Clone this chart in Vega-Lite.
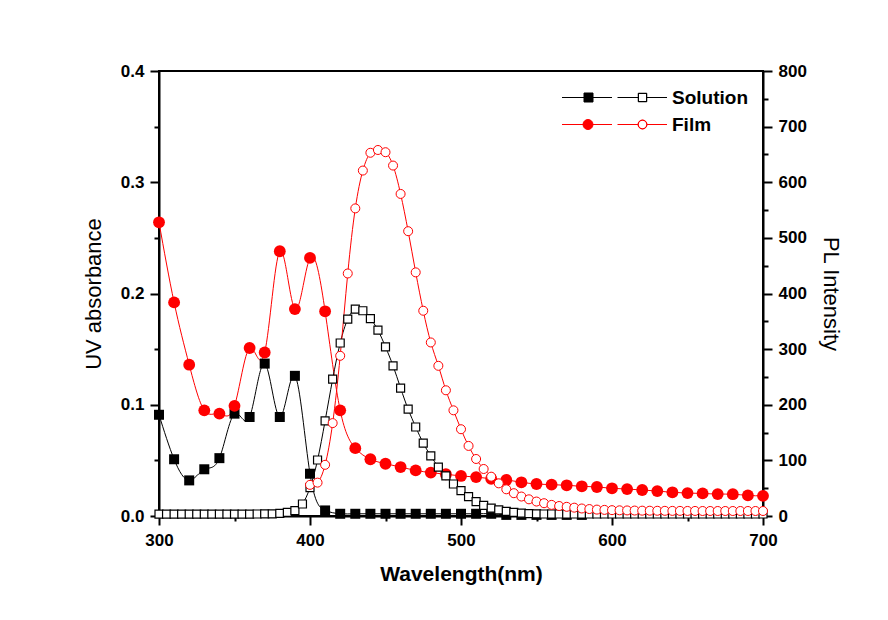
{
  "$schema": "https://vega.github.io/schema/vega-lite/v6.json",
  "width": 604,
  "height": 445,
  "autosize": "none",
  "padding": {"left": 159, "top": 71, "right": 125, "bottom": 104},
  "background": "white",
  "config": {"view": {"stroke": "black", "strokeWidth": 2}, "font": "Liberation Sans"},
  "datasets": {
    "absorbance": [
      {"wavelength": 300, "sample": "Solution", "absorbance": 0.091},
      {"wavelength": 310, "sample": "Solution", "absorbance": 0.051},
      {"wavelength": 320, "sample": "Solution", "absorbance": 0.032},
      {"wavelength": 330, "sample": "Solution", "absorbance": 0.042},
      {"wavelength": 340, "sample": "Solution", "absorbance": 0.052},
      {"wavelength": 350, "sample": "Solution", "absorbance": 0.092},
      {"wavelength": 360, "sample": "Solution", "absorbance": 0.089},
      {"wavelength": 370, "sample": "Solution", "absorbance": 0.137},
      {"wavelength": 380, "sample": "Solution", "absorbance": 0.089},
      {"wavelength": 390, "sample": "Solution", "absorbance": 0.126},
      {"wavelength": 400, "sample": "Solution", "absorbance": 0.038},
      {"wavelength": 410, "sample": "Solution", "absorbance": 0.005},
      {"wavelength": 420, "sample": "Solution", "absorbance": 0.002},
      {"wavelength": 430, "sample": "Solution", "absorbance": 0.002},
      {"wavelength": 440, "sample": "Solution", "absorbance": 0.002},
      {"wavelength": 450, "sample": "Solution", "absorbance": 0.002},
      {"wavelength": 460, "sample": "Solution", "absorbance": 0.002},
      {"wavelength": 470, "sample": "Solution", "absorbance": 0.002},
      {"wavelength": 480, "sample": "Solution", "absorbance": 0.002},
      {"wavelength": 490, "sample": "Solution", "absorbance": 0.002},
      {"wavelength": 500, "sample": "Solution", "absorbance": 0.002},
      {"wavelength": 510, "sample": "Solution", "absorbance": 0.002},
      {"wavelength": 520, "sample": "Solution", "absorbance": 0.002},
      {"wavelength": 530, "sample": "Solution", "absorbance": 0.001},
      {"wavelength": 540, "sample": "Solution", "absorbance": 0.001},
      {"wavelength": 550, "sample": "Solution", "absorbance": 0.001},
      {"wavelength": 560, "sample": "Solution", "absorbance": 0.001},
      {"wavelength": 570, "sample": "Solution", "absorbance": 0.001},
      {"wavelength": 580, "sample": "Solution", "absorbance": 0.001},
      {"wavelength": 300, "sample": "Film", "absorbance": 0.264},
      {"wavelength": 310, "sample": "Film", "absorbance": 0.192},
      {"wavelength": 320, "sample": "Film", "absorbance": 0.136},
      {"wavelength": 330, "sample": "Film", "absorbance": 0.095},
      {"wavelength": 340, "sample": "Film", "absorbance": 0.092},
      {"wavelength": 350, "sample": "Film", "absorbance": 0.099},
      {"wavelength": 360, "sample": "Film", "absorbance": 0.151},
      {"wavelength": 370, "sample": "Film", "absorbance": 0.147},
      {"wavelength": 380, "sample": "Film", "absorbance": 0.238},
      {"wavelength": 390, "sample": "Film", "absorbance": 0.186},
      {"wavelength": 400, "sample": "Film", "absorbance": 0.232},
      {"wavelength": 410, "sample": "Film", "absorbance": 0.184},
      {"wavelength": 420, "sample": "Film", "absorbance": 0.095},
      {"wavelength": 430, "sample": "Film", "absorbance": 0.061},
      {"wavelength": 440, "sample": "Film", "absorbance": 0.051},
      {"wavelength": 450, "sample": "Film", "absorbance": 0.047},
      {"wavelength": 460, "sample": "Film", "absorbance": 0.044},
      {"wavelength": 470, "sample": "Film", "absorbance": 0.041},
      {"wavelength": 480, "sample": "Film", "absorbance": 0.039},
      {"wavelength": 490, "sample": "Film", "absorbance": 0.0375},
      {"wavelength": 500, "sample": "Film", "absorbance": 0.036},
      {"wavelength": 510, "sample": "Film", "absorbance": 0.035},
      {"wavelength": 520, "sample": "Film", "absorbance": 0.0335},
      {"wavelength": 530, "sample": "Film", "absorbance": 0.0324},
      {"wavelength": 540, "sample": "Film", "absorbance": 0.0303},
      {"wavelength": 550, "sample": "Film", "absorbance": 0.0288},
      {"wavelength": 560, "sample": "Film", "absorbance": 0.0282},
      {"wavelength": 570, "sample": "Film", "absorbance": 0.0276},
      {"wavelength": 580, "sample": "Film", "absorbance": 0.0267},
      {"wavelength": 590, "sample": "Film", "absorbance": 0.0261},
      {"wavelength": 600, "sample": "Film", "absorbance": 0.0249},
      {"wavelength": 610, "sample": "Film", "absorbance": 0.0242},
      {"wavelength": 620, "sample": "Film", "absorbance": 0.0234},
      {"wavelength": 630, "sample": "Film", "absorbance": 0.0224},
      {"wavelength": 640, "sample": "Film", "absorbance": 0.0213},
      {"wavelength": 650, "sample": "Film", "absorbance": 0.0206},
      {"wavelength": 660, "sample": "Film", "absorbance": 0.0203},
      {"wavelength": 670, "sample": "Film", "absorbance": 0.0197},
      {"wavelength": 680, "sample": "Film", "absorbance": 0.0196},
      {"wavelength": 690, "sample": "Film", "absorbance": 0.0185},
      {"wavelength": 700, "sample": "Film", "absorbance": 0.0181}
    ],
    "pl": [
      {"wavelength": 300, "sample": "Solution", "intensity": 3.5},
      {"wavelength": 305, "sample": "Solution", "intensity": 3.5},
      {"wavelength": 310, "sample": "Solution", "intensity": 3.5},
      {"wavelength": 315, "sample": "Solution", "intensity": 3.5},
      {"wavelength": 320, "sample": "Solution", "intensity": 3.5},
      {"wavelength": 325, "sample": "Solution", "intensity": 3.5},
      {"wavelength": 330, "sample": "Solution", "intensity": 3.5},
      {"wavelength": 335, "sample": "Solution", "intensity": 3.5},
      {"wavelength": 340, "sample": "Solution", "intensity": 3.5},
      {"wavelength": 345, "sample": "Solution", "intensity": 3.5},
      {"wavelength": 350, "sample": "Solution", "intensity": 3.5},
      {"wavelength": 355, "sample": "Solution", "intensity": 3.5},
      {"wavelength": 360, "sample": "Solution", "intensity": 3.5},
      {"wavelength": 365, "sample": "Solution", "intensity": 3.6},
      {"wavelength": 370, "sample": "Solution", "intensity": 3.7},
      {"wavelength": 375, "sample": "Solution", "intensity": 4.0},
      {"wavelength": 380, "sample": "Solution", "intensity": 4.8},
      {"wavelength": 385, "sample": "Solution", "intensity": 6.6},
      {"wavelength": 390, "sample": "Solution", "intensity": 9.6},
      {"wavelength": 395, "sample": "Solution", "intensity": 21.6},
      {"wavelength": 400, "sample": "Solution", "intensity": 51},
      {"wavelength": 405, "sample": "Solution", "intensity": 100.7},
      {"wavelength": 410, "sample": "Solution", "intensity": 171},
      {"wavelength": 415, "sample": "Solution", "intensity": 246},
      {"wavelength": 420, "sample": "Solution", "intensity": 311},
      {"wavelength": 425, "sample": "Solution", "intensity": 354},
      {"wavelength": 430, "sample": "Solution", "intensity": 372},
      {"wavelength": 435, "sample": "Solution", "intensity": 369},
      {"wavelength": 440, "sample": "Solution", "intensity": 355},
      {"wavelength": 445, "sample": "Solution", "intensity": 334},
      {"wavelength": 450, "sample": "Solution", "intensity": 304},
      {"wavelength": 455, "sample": "Solution", "intensity": 270},
      {"wavelength": 460, "sample": "Solution", "intensity": 230},
      {"wavelength": 465, "sample": "Solution", "intensity": 192},
      {"wavelength": 470, "sample": "Solution", "intensity": 160},
      {"wavelength": 475, "sample": "Solution", "intensity": 131},
      {"wavelength": 480, "sample": "Solution", "intensity": 108},
      {"wavelength": 485, "sample": "Solution", "intensity": 88},
      {"wavelength": 490, "sample": "Solution", "intensity": 72},
      {"wavelength": 495, "sample": "Solution", "intensity": 57.5},
      {"wavelength": 500, "sample": "Solution", "intensity": 45.5},
      {"wavelength": 505, "sample": "Solution", "intensity": 35},
      {"wavelength": 510, "sample": "Solution", "intensity": 26},
      {"wavelength": 515, "sample": "Solution", "intensity": 19},
      {"wavelength": 520, "sample": "Solution", "intensity": 14},
      {"wavelength": 525, "sample": "Solution", "intensity": 11},
      {"wavelength": 530, "sample": "Solution", "intensity": 8.4},
      {"wavelength": 535, "sample": "Solution", "intensity": 6.6},
      {"wavelength": 540, "sample": "Solution", "intensity": 5},
      {"wavelength": 545, "sample": "Solution", "intensity": 4.2},
      {"wavelength": 550, "sample": "Solution", "intensity": 3.8},
      {"wavelength": 555, "sample": "Solution", "intensity": 3.6},
      {"wavelength": 560, "sample": "Solution", "intensity": 3.6},
      {"wavelength": 565, "sample": "Solution", "intensity": 3.6},
      {"wavelength": 570, "sample": "Solution", "intensity": 3.6},
      {"wavelength": 575, "sample": "Solution", "intensity": 3.6},
      {"wavelength": 580, "sample": "Solution", "intensity": 3.6},
      {"wavelength": 585, "sample": "Solution", "intensity": 3.6},
      {"wavelength": 590, "sample": "Solution", "intensity": 3.6},
      {"wavelength": 595, "sample": "Solution", "intensity": 3.6},
      {"wavelength": 600, "sample": "Solution", "intensity": 3.6},
      {"wavelength": 605, "sample": "Solution", "intensity": 3.6},
      {"wavelength": 610, "sample": "Solution", "intensity": 3.6},
      {"wavelength": 615, "sample": "Solution", "intensity": 3.6},
      {"wavelength": 620, "sample": "Solution", "intensity": 3.6},
      {"wavelength": 625, "sample": "Solution", "intensity": 3.6},
      {"wavelength": 630, "sample": "Solution", "intensity": 3.6},
      {"wavelength": 635, "sample": "Solution", "intensity": 3.6},
      {"wavelength": 640, "sample": "Solution", "intensity": 3.6},
      {"wavelength": 645, "sample": "Solution", "intensity": 3.6},
      {"wavelength": 650, "sample": "Solution", "intensity": 3.6},
      {"wavelength": 655, "sample": "Solution", "intensity": 3.6},
      {"wavelength": 660, "sample": "Solution", "intensity": 3.6},
      {"wavelength": 665, "sample": "Solution", "intensity": 3.6},
      {"wavelength": 670, "sample": "Solution", "intensity": 3.6},
      {"wavelength": 675, "sample": "Solution", "intensity": 3.6},
      {"wavelength": 680, "sample": "Solution", "intensity": 3.6},
      {"wavelength": 685, "sample": "Solution", "intensity": 3.6},
      {"wavelength": 690, "sample": "Solution", "intensity": 3.6},
      {"wavelength": 695, "sample": "Solution", "intensity": 3.6},
      {"wavelength": 700, "sample": "Solution", "intensity": 3.6},
      {"wavelength": 400, "sample": "Film", "intensity": 56},
      {"wavelength": 405, "sample": "Film", "intensity": 60},
      {"wavelength": 410, "sample": "Film", "intensity": 92},
      {"wavelength": 415, "sample": "Film", "intensity": 167},
      {"wavelength": 420, "sample": "Film", "intensity": 288},
      {"wavelength": 425, "sample": "Film", "intensity": 436},
      {"wavelength": 430, "sample": "Film", "intensity": 553},
      {"wavelength": 435, "sample": "Film", "intensity": 621},
      {"wavelength": 440, "sample": "Film", "intensity": 653},
      {"wavelength": 445, "sample": "Film", "intensity": 658},
      {"wavelength": 450, "sample": "Film", "intensity": 654},
      {"wavelength": 455, "sample": "Film", "intensity": 630},
      {"wavelength": 460, "sample": "Film", "intensity": 579},
      {"wavelength": 465, "sample": "Film", "intensity": 512},
      {"wavelength": 470, "sample": "Film", "intensity": 438},
      {"wavelength": 475, "sample": "Film", "intensity": 369},
      {"wavelength": 480, "sample": "Film", "intensity": 312},
      {"wavelength": 485, "sample": "Film", "intensity": 270},
      {"wavelength": 490, "sample": "Film", "intensity": 226},
      {"wavelength": 495, "sample": "Film", "intensity": 190},
      {"wavelength": 500, "sample": "Film", "intensity": 156},
      {"wavelength": 505, "sample": "Film", "intensity": 126},
      {"wavelength": 510, "sample": "Film", "intensity": 102.5},
      {"wavelength": 515, "sample": "Film", "intensity": 84.5},
      {"wavelength": 520, "sample": "Film", "intensity": 70.7},
      {"wavelength": 525, "sample": "Film", "intensity": 58.7},
      {"wavelength": 530, "sample": "Film", "intensity": 48},
      {"wavelength": 535, "sample": "Film", "intensity": 41},
      {"wavelength": 540, "sample": "Film", "intensity": 35},
      {"wavelength": 545, "sample": "Film", "intensity": 30},
      {"wavelength": 550, "sample": "Film", "intensity": 26},
      {"wavelength": 555, "sample": "Film", "intensity": 23},
      {"wavelength": 560, "sample": "Film", "intensity": 20},
      {"wavelength": 565, "sample": "Film", "intensity": 18},
      {"wavelength": 570, "sample": "Film", "intensity": 16.5},
      {"wavelength": 575, "sample": "Film", "intensity": 15},
      {"wavelength": 580, "sample": "Film", "intensity": 13.5},
      {"wavelength": 585, "sample": "Film", "intensity": 12.5},
      {"wavelength": 590, "sample": "Film", "intensity": 11.5},
      {"wavelength": 595, "sample": "Film", "intensity": 11},
      {"wavelength": 600, "sample": "Film", "intensity": 10.5},
      {"wavelength": 605, "sample": "Film", "intensity": 10.2},
      {"wavelength": 610, "sample": "Film", "intensity": 10},
      {"wavelength": 615, "sample": "Film", "intensity": 9.8},
      {"wavelength": 620, "sample": "Film", "intensity": 9.6},
      {"wavelength": 625, "sample": "Film", "intensity": 9.5},
      {"wavelength": 630, "sample": "Film", "intensity": 9.4},
      {"wavelength": 635, "sample": "Film", "intensity": 9.3},
      {"wavelength": 640, "sample": "Film", "intensity": 9.2},
      {"wavelength": 645, "sample": "Film", "intensity": 9.2},
      {"wavelength": 650, "sample": "Film", "intensity": 9.1},
      {"wavelength": 655, "sample": "Film", "intensity": 9.1},
      {"wavelength": 660, "sample": "Film", "intensity": 9},
      {"wavelength": 665, "sample": "Film", "intensity": 9},
      {"wavelength": 670, "sample": "Film", "intensity": 9},
      {"wavelength": 675, "sample": "Film", "intensity": 9},
      {"wavelength": 680, "sample": "Film", "intensity": 9},
      {"wavelength": 685, "sample": "Film", "intensity": 9},
      {"wavelength": 690, "sample": "Film", "intensity": 9},
      {"wavelength": 695, "sample": "Film", "intensity": 9},
      {"wavelength": 700, "sample": "Film", "intensity": 9}
    ]
  },
  "encoding": {
    "x": {
      "field": "wavelength",
      "type": "quantitative",
      "scale": {"domain": [300, 700], "nice": false, "zero": false},
      "axis": {
        "values": [300, 350, 400, 450, 500, 550, 600, 650, 700],
        "format": "d",
        "labelExpr": "datum.value % 100 === 0 ? datum.label : ''",
        "tickSize": {"condition": {"test": "datum.value % 100 === 0", "value": 9}, "value": 5},
        "tickColor": "black",
        "tickWidth": 2,
        "domainColor": "black",
        "domainWidth": 2,
        "grid": false,
        "labelFlush": false,
        "labelOverlap": false,
        "labelFont": "Liberation Sans",
        "labelFontSize": 17,
        "labelFontWeight": "bold",
        "labelColor": "black",
        "labelPadding": 7,
        "title": "Wavelength(nm)",
        "titleFont": "Liberation Sans",
        "titleFontSize": 21,
        "titleFontWeight": "bold",
        "titleColor": "black",
        "titlePadding": 15
      }
    }
  },
  "layer": [
    {
      "data": {"name": "absorbance"},
      "encoding": {
        "y": {
          "field": "absorbance",
          "type": "quantitative",
          "scale": {"domain": [0, 0.4], "nice": false},
          "axis": {
            "orient": "left",
            "values": [0, 0.05, 0.1, 0.15, 0.2, 0.25, 0.3, 0.35, 0.4],
            "labelExpr": "round(datum.value * 100) % 10 === 0 ? format(datum.value, '.1f') : ''",
            "tickSize": {"condition": {"test": "round(datum.value * 100) % 10 === 0", "value": 9}, "value": 5},
            "tickColor": "black",
            "tickWidth": 2,
            "domainColor": "black",
            "domainWidth": 2,
            "grid": false,
            "labelFlush": false,
            "labelOverlap": false,
            "labelFont": "Liberation Sans",
            "labelFontSize": 17,
            "labelFontWeight": "bold",
            "labelColor": "black",
            "labelPadding": 6,
            "title": "UV absorbance",
            "titleFont": "Liberation Sans",
            "titleFontSize": 22,
            "titleFontWeight": "normal",
            "titleColor": "black",
            "titlePadding": 15
          }
        }
      },
      "layer": [
        {
          "mark": {"type": "line", "interpolate": "natural", "strokeWidth": 1, "clip": true},
          "encoding": {
            "color": {
              "field": "sample",
              "type": "nominal",
              "scale": {"domain": ["Solution", "Film"], "range": ["#000000", "#ff0000"]},
              "legend": {
                "orient": "none",
                "legendX": 446,
                "legendY": 17,
                "title": null,
                "padding": 0,
                "symbolSize": 100,
                "labelOffset": 48,
                "rowPadding": 7,
                "labelFont": "Liberation Sans",
                "labelFontSize": 19,
                "labelFontWeight": "bold",
                "labelColor": "black",
                "encode": {
                  "symbols": {
                    "update": {
                      "shape": {"signal": "datum.value === 'Solution' ? 'M-10.5,0H-0.5M-6.1,-0.9H-4.3V0.9H-6.1ZM0.6,0H4.75M6.45,0H10.5M4.75,-0.85H6.45V0.85H4.75ZM4.8,-0.8V0.8H6.4V-0.8Z' : 'M-10.5,0H-0.5M0.6,0H4.7M6.5,0H10.5M-4.3,0A1,1,0,1,1,-6.3,0A1,1,0,1,1,-4.3,0ZM6.5,0A0.9,0.9,0,1,1,4.7,0A0.9,0.9,0,1,1,6.5,0ZM6.45,0A0.85,0.85,0,1,0,4.75,0A0.85,0.85,0,1,0,6.45,0Z'"},
                      "fill": {"scale": "color", "field": "value"},
                      "stroke": {"scale": "color", "field": "value"},
                      "strokeWidth": {"value": 1},
                      "opacity": {"value": 1},
                      "fillOpacity": {"value": 1}
                    }
                  }
                }
              }
            }
          }
        },
        {
          "transform": [{"filter": "datum.sample === 'Solution'"}],
          "mark": {"type": "point", "shape": "square", "filled": true, "color": "#000000", "size": 100, "opacity": 1}
        },
        {
          "transform": [{"filter": "datum.sample === 'Film'"}],
          "mark": {"type": "point", "shape": "circle", "filled": true, "color": "#ff0000", "size": 140, "opacity": 1}
        }
      ]
    },
    {
      "data": {"name": "pl"},
      "encoding": {
        "y": {
          "field": "intensity",
          "type": "quantitative",
          "scale": {"domain": [0, 800], "nice": false},
          "axis": {
            "orient": "right",
            "values": [0, 50, 100, 150, 200, 250, 300, 350, 400, 450, 500, 550, 600, 650, 700, 750, 800],
            "labelExpr": "datum.value % 100 === 0 ? datum.label : ''",
            "tickSize": {"condition": {"test": "datum.value % 100 === 0", "value": 9}, "value": 5},
            "tickColor": "black",
            "tickWidth": 2,
            "domainColor": "black",
            "domainWidth": 2,
            "grid": false,
            "labelFlush": false,
            "labelOverlap": false,
            "labelFont": "Liberation Sans",
            "labelFontSize": 17,
            "labelFontWeight": "bold",
            "labelColor": "black",
            "labelPadding": 6,
            "title": "PL Intensity",
            "titleFont": "Liberation Sans",
            "titleFontSize": 22,
            "titleFontWeight": "normal",
            "titleColor": "black",
            "titlePadding": 12
          }
        }
      },
      "layer": [
        {
          "transform": [{"filter": "datum.sample === 'Solution'"}],
          "mark": {"type": "line", "interpolate": "natural", "strokeWidth": 1, "color": "#000000", "clip": true}
        },
        {
          "transform": [{"filter": "datum.sample === 'Film'"}],
          "mark": {"type": "line", "interpolate": "natural", "strokeWidth": 1, "color": "#ff0000", "clip": true}
        },
        {
          "transform": [{"filter": "datum.sample === 'Solution'"}],
          "mark": {"type": "point", "shape": "square", "filled": false, "fill": "white", "stroke": "#000000", "strokeWidth": 1.2, "size": 64, "opacity": 1, "fillOpacity": 1}
        },
        {
          "transform": [{"filter": "datum.sample === 'Film'"}],
          "mark": {"type": "point", "shape": "circle", "filled": false, "fill": "white", "stroke": "#ff0000", "strokeWidth": 1, "size": 81, "opacity": 1, "fillOpacity": 1}
        }
      ]
    }
  ],
  "resolve": {"scale": {"y": "independent"}}
}
